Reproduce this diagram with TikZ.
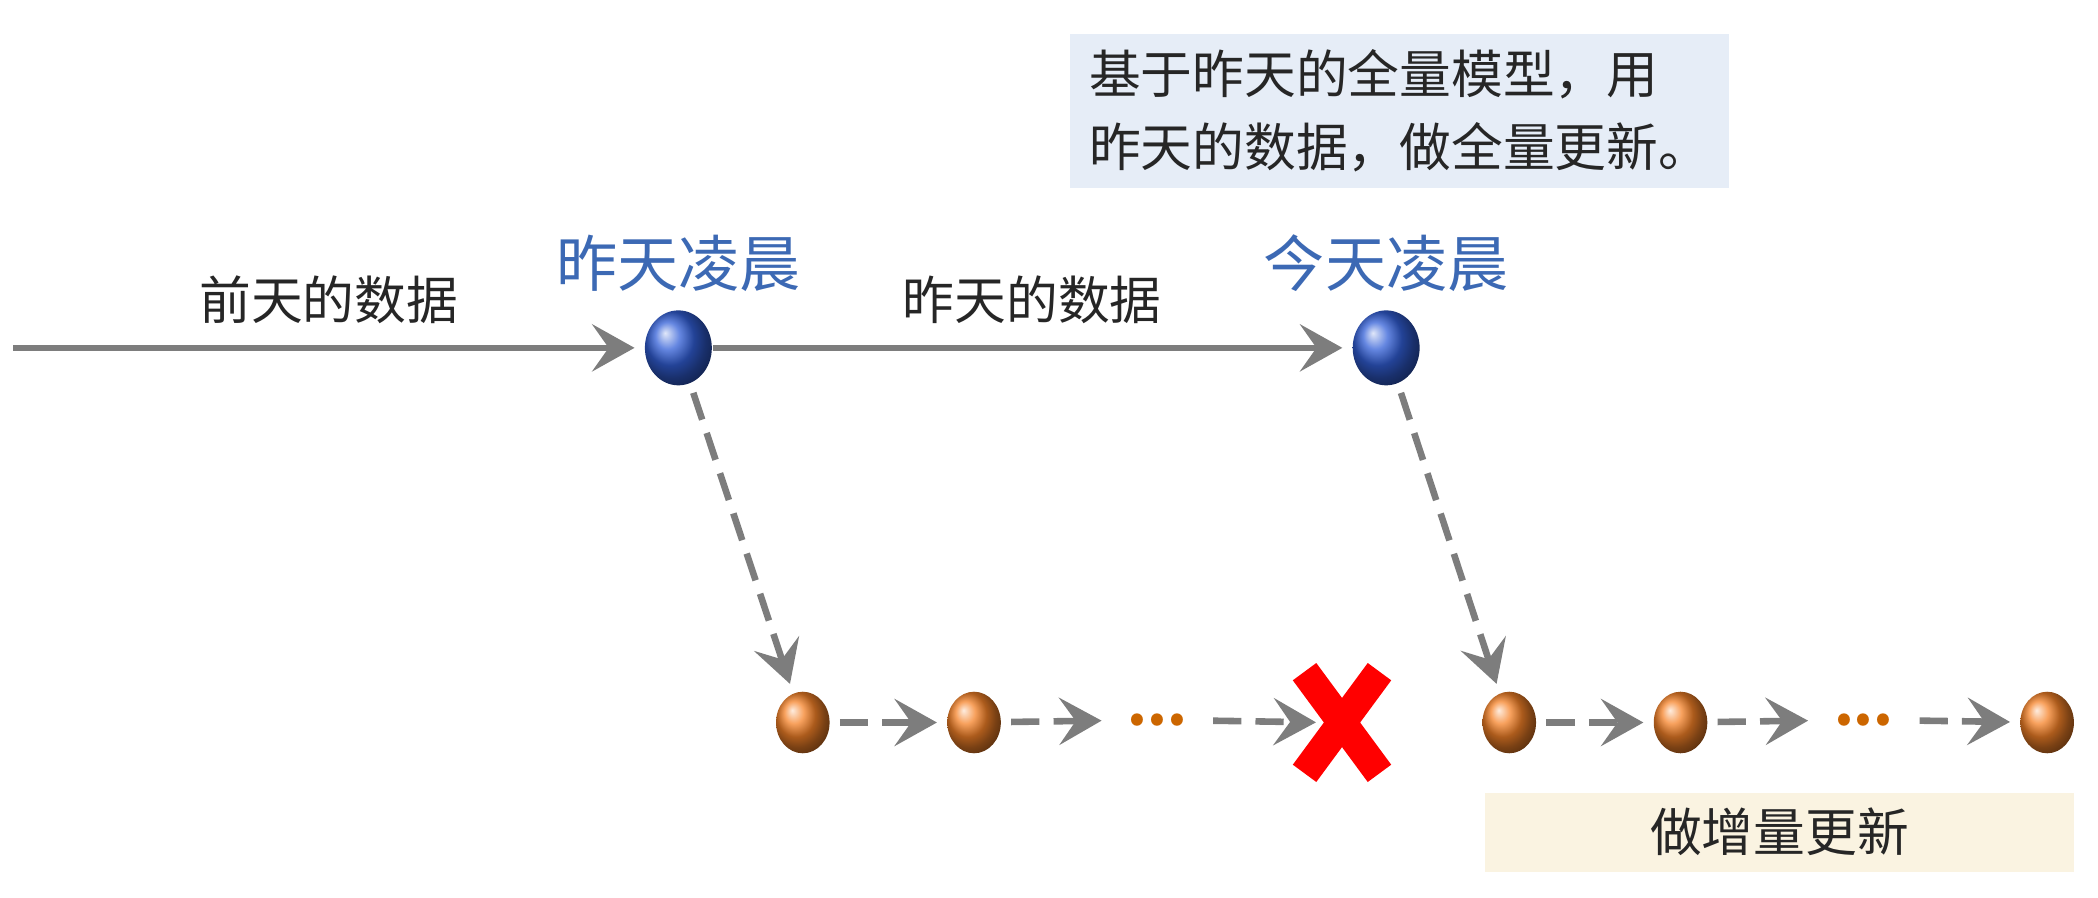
\documentclass[tikz,border=0pt]{standalone}
\usepackage{fontspec}
\setmainfont{Noto Sans CJK SC}
\usetikzlibrary{shapes.geometric,arrows.meta}
\definecolor{boxblue}{RGB}{230,237,247}
\definecolor{boxcream}{RGB}{250,243,225}
\definecolor{daytext}{RGB}{60,105,180}
\definecolor{linegray}{RGB}{125,125,125}
\definecolor{ballblue}{RGB}{50,95,215}
\definecolor{ballorange}{RGB}{245,130,40}
\tikzstyle{bigball}=[ellipse, minimum width=0.5cm, minimum height=0.56cm,
  inner sep=0pt, ball color=ballblue]
\tikzstyle{smallball}=[ellipse, minimum width=0.4cm, minimum height=0.46cm,
  inner sep=0pt, ball color=ballorange]
\tikzstyle{texto}=[font=\fontsize{11}{15.5}\selectfont, text=black!85]
\tikzstyle{daylabel}=[font=\fontsize{13}{16}\selectfont, text=daytext]
\tikzstyle{line}=[draw, line width=1.4pt, color=linegray,
  -{Stealth[length=9pt,width=10pt,inset=3.5pt]}, shorten >=2pt]
\tikzstyle{linepart}=[line, dash pattern=on 6pt off 3pt, shorten <=2pt]
\tikzstyle{dots}=[font=\fontsize{12}{12}\selectfont\bfseries, text=orange!80!black]
\begin{document}
\begin{tikzpicture}[x=0.01cm,y=-0.01cm]
  \useasboundingbox (0,0) rectangle (1568,671);

  % note boxes
  \node (NOTE) [fill=boxblue, minimum width=4.92cm, minimum height=1.15cm,
    texto, align=left] at (1046,83) {基于昨天的全量模型，用\\昨天的数据，做全量更新。};
  \node (INCR) [fill=boxcream, minimum width=4.4cm, minimum height=0.57cm,
    texto] at (1330,622) {做增量更新};

  % start of the timeline
  \coordinate (START) at (10,260);
  \node (YDAY) [bigball] at (507,260) {};
  \node (TDAY) [bigball] at (1036,260) {};
  \node [daylabel] at (507,197) {昨天凌晨};
  \node [daylabel] at (1036,197) {今天凌晨};

  % first chain of updates
  \node (A1) [smallball] at (600,540) {};
  \node (A2) [smallball] at (728,540) {};
  \node (ADOTS) [dots] at (865,538) {...};
  \node (STOP) at (1003,540) {};
  \draw [red, line width=6.2pt] (975,502) -- (1031,578) (1031,502) -- (975,578);

  % second chain of updates
  \node (B1) [smallball] at (1128,540) {};
  \node (B2) [smallball] at (1256,540) {};
  \node (BDOTS) [dots] at (1393,538) {...};
  \node (B3) [smallball] at (1530,540) {};

  % full updates along the days
  \path [line] (START) -- node [texto, above=1pt] {前天的数据} (YDAY);
  \path [line] (YDAY) -- node [texto, above=1pt] {昨天的数据} (TDAY);

  % incremental updates
  \path [linepart] (YDAY) -- (A1);
  \path [linepart] (TDAY) -- (B1);
  \path [linepart] (A1) -- (A2);
  \path [linepart] (A2) -- (ADOTS);
  \path [linepart] (ADOTS) -- (STOP.west);
  \path [linepart] (B1) -- (B2);
  \path [linepart] (B2) -- (BDOTS);
  \path [linepart] (BDOTS) -- (B3);
\end{tikzpicture}
\end{document}
